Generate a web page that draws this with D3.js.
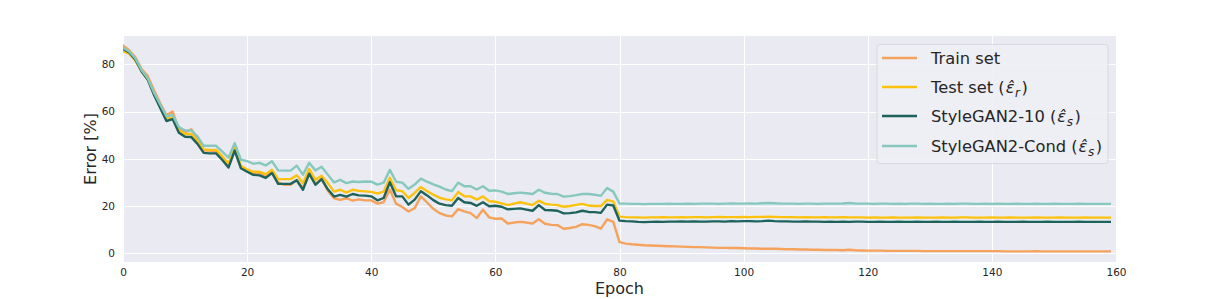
<!DOCTYPE html>
<html>
<head>
<meta charset="utf-8">
<script src="https://cdn.jsdelivr.net/npm/d3@7"></script>
<style>
  body { margin: 0; background: #fff; }
  text { font-family: "DejaVu Sans", sans-serif; fill: #262626; }
</style>
</head>
<body>
<div id="chart"></div>
<script>
var svgWidth = 1207;
var svgHeight = 299;

// plot box (pixels)
var box = { left: 123, right: 1116, top: 36, bottom: 262 };

var xTicks = [0, 20, 40, 60, 80, 100, 120, 140, 160];
var yTicks = [0, 20, 40, 60, 80];

// error [%] per epoch
var trainSet = [
  88, 86, 83, 78, 75, 69, 63.5, 58.5, 60, 52.5,
  51, 52.5, 48.5, 43.5, 43.5, 43, 40, 37, 44, 36.5,
  34.8, 33.5, 33.8, 32.5, 34.5, 30, 29, 29, 31, 27.5,
  33.5, 29.5, 31.5, 26.5, 23.3, 22.6, 23.3, 22.3, 22.8, 22.4,
  22.4, 21, 21.6, 27, 21, 19.6, 17.7, 19.1, 24.1, 21.5,
  18.8, 17, 16, 15.6, 18.7, 17.7, 17, 14.9, 18.4, 15.2,
  14.6, 14.7, 12.6, 13, 13.3, 13, 12.6, 14.4, 12.5, 12,
  11.9, 10.4, 10.7, 11.2, 12.3, 12, 11.5, 10.4, 14.3, 13.3,
  4.7, 4.1, 3.8, 3.6, 3.4, 3.3, 3.2, 3.1, 3.0, 2.9,
  2.8, 2.7, 2.6, 2.6, 2.5, 2.4, 2.3, 2.3, 2.2, 2.2,
  2.1, 2.0, 2.0, 1.9, 1.9, 1.9, 1.8, 1.7, 1.7, 1.6,
  1.6, 1.5, 1.5, 1.4, 1.4, 1.4, 1.3, 1.5, 1.3, 1.2,
  1.1, 1.1, 1.1, 1.0, 1.0, 1.0, 1.0, 1.0, 1.0, 0.9,
  0.9, 0.9, 0.9, 0.9, 0.9, 0.9, 0.9, 0.9, 0.9, 0.9,
  0.9, 0.9, 0.8, 0.8, 0.8, 0.8, 0.8, 0.9, 0.8, 0.8,
  0.8, 0.8, 0.8, 0.8, 0.8, 0.8, 0.8, 0.8, 0.8, 0.8
];

var testSet = [
  85.5, 84.5, 81.5, 77, 73.5, 67.5, 62, 57, 57.5, 52,
  50.5, 50.5, 47.5, 44, 43.8, 43.8, 41, 38, 44.5, 37,
  35.5, 34.5, 34.5, 33.5, 35.4, 31.4, 31.4, 31.4, 33, 29.7,
  35.7, 31.1, 32.8, 29.7, 26.1, 26.9, 25.7, 26.9, 26.4, 26.2,
  26, 25.3, 26.1, 32, 26.7, 26.3, 23.4, 25.6, 28.1, 26.3,
  24.8, 23.5, 22.8, 22.4, 25.9, 24.1, 24.1, 22.7, 24.1, 22,
  21.8, 21.1, 20.4, 21, 21.6, 21, 20.4, 22.3, 20.9, 20.6,
  20.4, 19.7, 20, 20.5, 20.9, 20.2, 20, 20, 22.6, 21.9,
  15.5, 15.3, 15.2, 15.2, 15.1, 15.2, 15.2, 15.3, 15.2, 15.2,
  15.3, 15.2, 15.3, 15.3, 15.2, 15.3, 15.4, 15.3, 15.3, 15.3,
  15.4, 15.3, 15.4, 15.4, 15.5, 15.4, 15.3, 15.3, 15.3, 15.2,
  15.3, 15.2, 15.2, 15.3, 15.2, 15.2, 15.3, 15.2, 15.2, 15.2,
  15.1, 15.2, 15.1, 15.1, 15.2, 15.1, 15.1, 15.1, 15.2, 15.1,
  15.1, 15.1, 15.2, 15.1, 15.1, 15.2, 15.2, 15.1, 15.1, 15.1,
  15.2, 15.1, 15.1, 15.2, 15.1, 15.1, 15.1, 15.2, 15.1, 15.1,
  15.1, 15.2, 15.1, 15.1, 15.1, 15.2, 15.1, 15.1, 15.1, 15.1
];

var styleGan10 = [
  86.5, 85, 82, 77, 73.5, 67, 61.5, 56, 56.8, 51,
  49.3, 49.2, 46.3, 42.5, 42.3, 42.3, 39.5, 36.3, 43.5, 36,
  34.5, 33.2, 33, 31.9, 34, 29.4, 29.4, 29.4, 30.9, 26.9,
  33.7, 29, 31.4, 27.1, 24, 24.7, 24, 25.1, 24.5, 24.4,
  24.1, 22.4, 23.4, 30.1, 24.1, 24.1, 20.6, 22.7, 26.3, 24.5,
  22.5, 21, 20.4, 20.1, 23.4, 21.6, 21.3, 20.1, 21.6, 19.9,
  20.1, 19.7, 18.6, 18.8, 19, 18.5, 18, 20.4, 18.3, 18.2,
  18, 16.9, 17, 17.3, 18, 17.5, 17.4, 17.1, 20.6, 20.2,
  13.8, 13.6, 13.5, 13.3, 13.2, 13.3, 13.4, 13.3, 13.4, 13.4,
  13.5, 13.4, 13.5, 13.4, 13.4, 13.5, 13.5, 13.4, 13.6, 13.5,
  13.6, 13.6, 13.5, 13.6, 13.8, 13.6, 13.5, 13.5, 13.4, 13.4,
  13.5, 13.4, 13.4, 13.3, 13.4, 13.3, 13.4, 13.3, 13.4, 13.4,
  13.3, 13.3, 13.4, 13.3, 13.3, 13.4, 13.3, 13.3, 13.4, 13.3,
  13.3, 13.4, 13.3, 13.3, 13.4, 13.3, 13.3, 13.3, 13.4, 13.3,
  13.3, 13.4, 13.3, 13.3, 13.3, 13.4, 13.3, 13.3, 13.3, 13.4,
  13.3, 13.3, 13.3, 13.3, 13.4, 13.3, 13.3, 13.3, 13.3, 13.3
];

var styleGanCond = [
  87, 85.5, 82.5, 77.5, 74, 68, 63, 58, 58.5, 53.5,
  52, 52, 49.5, 45.5, 45.5, 45.5, 43, 40.5, 46.6, 39.6,
  39, 37.9, 38.3, 37.2, 39, 35.1, 35, 35, 37.1, 33.3,
  38.3, 35.1, 36.6, 33.3, 30, 31.1, 29.7, 30.4, 30.2, 30.4,
  30.3, 29.1, 29.9, 35.3, 30.3, 29.9, 27.3, 29.1, 31.6, 30.3,
  29.2, 28.2, 27, 26.3, 29.9, 28.4, 28.4, 27, 28.4, 26.5,
  26.6, 26.1, 25.1, 25.4, 25.7, 25.4, 25.1, 26.9, 25.6, 25.2,
  25.1, 24, 24.2, 24.6, 25.1, 25.1, 24.8, 24.3, 27.6, 26.1,
  21.1, 21.0, 20.9, 20.9, 20.8, 20.9, 20.9, 20.9, 21.0, 20.9,
  20.9, 21.0, 20.9, 21.0, 21.0, 21.0, 20.9, 21.0, 21.1, 21.0,
  21.0, 21.1, 21.0, 21.2, 21.3, 21.2, 21.0, 21.0, 21.0, 20.9,
  21.0, 21.0, 20.9, 21.0, 21.0, 21.0, 21.1, 21.3, 21.1, 21.0,
  21.0, 20.9, 21.0, 21.0, 20.9, 21.0, 20.9, 21.0, 21.0, 20.9,
  21.0, 20.9, 20.9, 21.0, 20.9, 21.0, 21.0, 20.9, 20.9, 21.0,
  20.9, 21.0, 20.9, 20.9, 21.0, 20.9, 20.9, 21.0, 20.9, 20.9,
  21.0, 20.9, 20.9, 20.9, 21.0, 20.9, 20.9, 20.9, 20.9, 20.9
];

var seriesList = [
  { values: trainSet, color: "#f4a25c", label: ["Train set"] },
  { values: testSet, color: "#fcc20d", label: ["Test set (", "r", ")"] },
  { values: styleGan10, color: "#1e625c", label: ["StyleGAN2-10 (", "s", ")"] },
  { values: styleGanCond, color: "#86c8bd", label: ["StyleGAN2-Cond (", "s", ")"] }
];

var svg = d3
  .select("#chart")
  .append("svg")
  .attr("width", svgWidth)
  .attr("height", svgHeight);

var xScale = d3.scaleLinear().domain([0, 160]).range([box.left, box.right]);
var yScale = d3.scaleLinear().domain([-3.7, 92.0]).range([box.bottom, box.top]);

// background + grid (seaborn darkgrid look)
svg
  .append("rect")
  .attr("x", box.left)
  .attr("y", box.top)
  .attr("width", box.right - box.left)
  .attr("height", box.bottom - box.top)
  .attr("fill", "#eaeaf2");

var grid = svg.append("g").attr("stroke", "#ffffff").attr("stroke-width", 1);
grid
  .selectAll("line.vx")
  .data(xTicks)
  .enter()
  .append("line")
  .attr("x1", d => Math.round(xScale(d)) + 0.5)
  .attr("x2", d => Math.round(xScale(d)) + 0.5)
  .attr("y1", box.top)
  .attr("y2", box.bottom);
grid
  .selectAll("line.hy")
  .data(yTicks)
  .enter()
  .append("line")
  .attr("y1", d => Math.round(yScale(d)) + 0.5)
  .attr("y2", d => Math.round(yScale(d)) + 0.5)
  .attr("x1", box.left)
  .attr("x2", box.right);

// axes, labels only
var xAxis = svg
  .append("g")
  .attr("transform", `translate(0, ${box.bottom})`)
  .call(d3.axisBottom(xScale).tickValues(xTicks).tickSize(0).tickPadding(7));
var yAxis = svg
  .append("g")
  .attr("transform", `translate(${box.left}, 0)`)
  .call(d3.axisLeft(yScale).tickValues(yTicks).tickSize(0).tickPadding(8));
[xAxis, yAxis].forEach(function(ax) {
  ax.select(".domain").remove();
  ax.selectAll("text")
    .style("font-family", "DejaVu Sans")
    .style("font-size", "10.5px")
    .attr("fill", "#262626");
});

svg
  .append("text")
  .attr("x", (box.left + box.right) / 2)
  .attr("y", 294)
  .attr("text-anchor", "middle")
  .style("font-size", "16px")
  .text("Epoch");

svg
  .append("text")
  .attr("transform", `translate(96, ${(box.top + box.bottom) / 2}) rotate(-90)`)
  .attr("text-anchor", "middle")
  .style("font-size", "16px")
  .text("Error [%]");

// lines
svg
  .append("clipPath")
  .attr("id", "plotclip")
  .append("rect")
  .attr("x", box.left)
  .attr("y", box.top)
  .attr("width", box.right - box.left)
  .attr("height", box.bottom - box.top);

var lineGen = d3
  .line()
  .x((d, i) => xScale(i))
  .y(d => yScale(d));

svg
  .append("g")
  .attr("clip-path", "url(#plotclip)")
  .selectAll("path")
  .data(seriesList)
  .enter()
  .append("path")
  .attr("d", d => lineGen(d.values))
  .attr("fill", "none")
  .attr("stroke", d => d.color)
  .attr("stroke-width", 2.4)
  .attr("stroke-linejoin", "round")
  .attr("stroke-linecap", "square");

// legend
var legend = svg.append("g");
legend
  .append("rect")
  .attr("x", 877)
  .attr("y", 44.5)
  .attr("width", 231)
  .attr("height", 119)
  .attr("rx", 3)
  .attr("fill", "#eeeef5")
  .attr("fill-opacity", 0.9)
  .attr("stroke", "#d8d8e0")
  .attr("stroke-width", 1);

var rowY = [58, 87, 116, 146];
seriesList.forEach(function(s, i) {
  legend
    .append("line")
    .attr("x1", 882)
    .attr("x2", 917)
    .attr("y1", rowY[i])
    .attr("y2", rowY[i])
    .attr("stroke", s.color)
    .attr("stroke-width", 2.4);
  var t = legend
    .append("text")
    .attr("x", 931)
    .attr("y", rowY[i] + 6)
    .style("font-size", "16.3px");
  t.append("tspan").text(s.label[0]);
  if (s.label.length > 1) {
    t.append("tspan")
      .attr("dx", 1)
      .style("font-style", "italic")
      .text("\u03b5\u0302");
    t.append("tspan")
      .style("font-style", "italic")
      .style("font-size", "12px")
      .attr("dy", 4)
      .attr("dx", 0.5)
      .text(s.label[1]);
    t.append("tspan").attr("dy", -4).attr("dx", 1.5).text(s.label[2]);
  }
});
</script>
</body>
</html>
